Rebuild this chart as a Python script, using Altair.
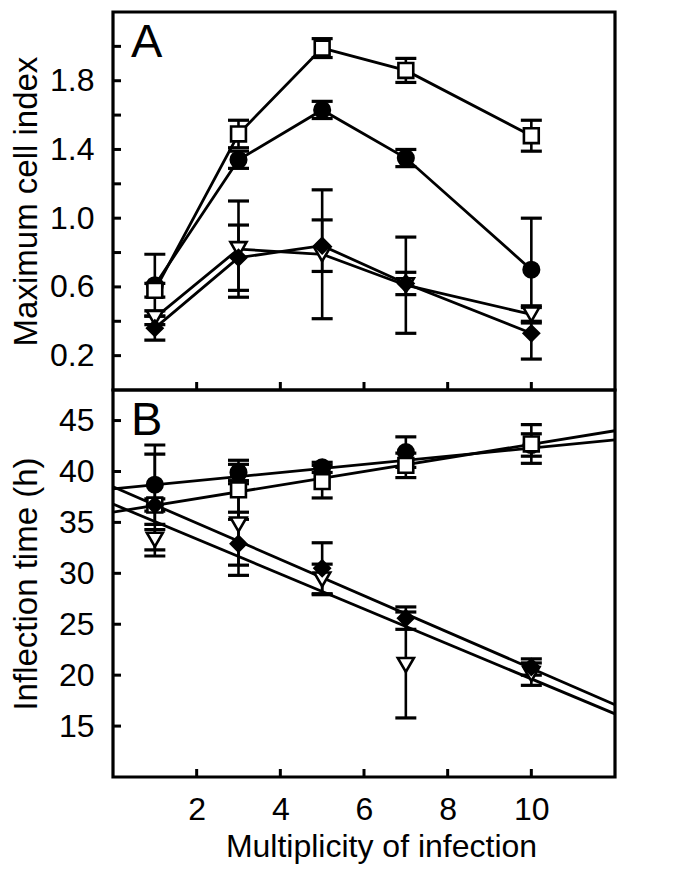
import altair as alt
import pandas as pd

# ---------------- data ----------------
moi = [1, 3, 5, 7, 10]
series = ["circle", "square", "triangle", "diamond"]

# Panel A: maximum cell index
a_circle = [0.61, 1.34, 1.63, 1.35, 0.70]
a_circle_err = [0.18, 0.05, 0.05, 0.05, 0.30]
a_square = [0.58, 1.49, 1.99, 1.86, 1.48]
a_square_err = [0.04, 0.08, 0.055, 0.07, 0.09]
a_triangle = [0.42, 0.82, 0.79, 0.61, 0.44]
a_triangle_err = [0.04, 0.28, 0.375, 0.28, 0.05]
a_diamond = [0.36, 0.77, 0.84, 0.62, 0.33]
a_diamond_err = [0.07, 0.19, 0.15, 0.065, 0.15]

# Panel B: inflection time (h)
b_circle = [38.7, 39.9, 40.4, 41.9, 42.6]
b_circle_err = [3.9, 0.8, 0.5, 1.5, 1.1]
b_square = [36.7, 38.2, 39.0, 40.6, 42.7]
b_square_err = [5.0, 2.9, 1.6, 1.2, 1.9]
b_triangle = [33.3, 34.8, 29.4, 21.0, 20.1]
b_triangle_err = [1.0, 4.0, 1.5, 5.2, 1.1]
b_diamond = [36.7, 32.9, 30.5, 25.6, 20.8]
b_diamond_err = [0.6, 3.1, 2.5, 1.1, 0.8]

# Panel B fitted lines (value at x=0 and x=12)
fit_x = [0, 12]
fit_circle = [38.3, 43.1]
fit_square = [36.0, 44.0]
fit_triangle = [36.8, 16.2]
fit_diamond = [38.5, 17.1]

# axes
x_ticks = [2, 4, 6, 8, 10]
a_ticks = [0.2, 0.4, 0.6, 0.8, 1.0, 1.2, 1.4, 1.6, 1.8, 2.0]
a_labels = [0.2, 0.6, 1.0, 1.4, 1.8]
b_ticks = [15, 20, 25, 30, 35, 40, 45]
b_labels = [15, 20, 25, 30, 35, 40, 45]

FONT = "Liberation Sans"
W = 502
HA = 378
HB = 387

shape_of = {"circle": "circle", "square": "square", "triangle": "triangle-down", "diamond": "diamond"}
fill_of = {"circle": "black", "square": "white", "triangle": "white", "diamond": "black"}
size_of = {"circle": 240, "square": 220, "triangle": 260, "diamond": 230}


def long_df(vals, errs):
    rows = []
    for s in series:
        for xv, yv, ev in zip(moi, vals[s], errs[s]):
            rows.append({"series": s, "x": xv, "y": yv, "lo": yv - ev, "hi": yv + ev})
    return pd.DataFrame(rows)


xs = alt.Scale(domain=[0, 12], nice=False, zero=False)


def build_panel(df, ydomain, yticks, ylabels, yfmt, ytitle, H, show_x, label, title_pad, fits=None):
    ys = alt.Scale(domain=ydomain, nice=False, zero=False)
    yaxis = alt.Axis(values=ylabels, format=yfmt, ticks=False, domain=False, grid=False,
                     labelFont=FONT, labelFontSize=32, labelColor="black", labelPadding=19,
                     title=ytitle, titleFont=FONT, titleFontSize=33, titleFontWeight="normal",
                     titleColor="black", titlePadding=title_pad)
    if show_x:
        xaxis = alt.Axis(values=x_ticks, format="d", ticks=False, domain=False, grid=False,
                         labelFont=FONT, labelFontSize=32, labelColor="black", labelPadding=17,
                         title="Multiplicity of infection", titleFont=FONT, titleFontSize=32,
                         titleFontWeight="normal", titleColor="black", titlePadding=6, titleX=268)
    else:
        xaxis = None

    def X(f):
        return alt.X(f, type="quantitative", scale=xs, axis=xaxis)

    def Y(f):
        return alt.Y(f, type="quantitative", scale=ys, axis=yaxis)

    base = alt.Chart(df)
    layers = []
    if fits is None:
        layers.append(base.mark_line(color="black", strokeWidth=2.8).encode(
            x=X("x"), y=Y("y"), detail="series:N", order="x:Q"))
    else:
        layers.append(alt.Chart(fits).mark_line(color="black", strokeWidth=2.8, clip=True).encode(
            x=X("x"), y=Y("y"), detail="series:N"))
    layers.append(base.mark_rule(color="black", strokeWidth=2.6).encode(
        x=X("x"), y=Y("lo"), y2="hi:Q"))
    layers.append(base.mark_tick(orient="horizontal", size=21, thickness=3.2, color="black", opacity=1).encode(
        x=X("x"), y=Y("lo")))
    layers.append(base.mark_tick(orient="horizontal", size=21, thickness=3.2, color="black", opacity=1).encode(
        x=X("x"), y=Y("hi")))
    for s in ["circle", "square", "triangle", "diamond"]:
        layers.append(alt.Chart(df[df["series"] == s]).mark_point(
            shape=shape_of[s], filled=True, fill=fill_of[s], stroke="black", strokeWidth=2.6,
            size=size_of[s], opacity=1).encode(x=X("x"), y=Y("y")))
    # inward ticks
    layers.append(alt.Chart(pd.DataFrame({"t": x_ticks})).mark_rule(color="black", strokeWidth=3).encode(
        x=X("t"), y=alt.value(H), y2=alt.value(H - 8)))
    layers.append(alt.Chart(pd.DataFrame({"t": yticks})).mark_rule(color="black", strokeWidth=3).encode(
        y=Y("t"), x=alt.value(0), x2=alt.value(8)))
    layers.append(alt.Chart(pd.DataFrame({"lab": [label]})).mark_text(
        font=FONT, fontSize=47, align="left", baseline="alphabetic", color="black").encode(
        text="lab:N", x=alt.value(18), y=alt.value(45)))
    return alt.layer(*layers).properties(width=W, height=H)


dfA = long_df({"circle": a_circle, "square": a_square, "triangle": a_triangle, "diamond": a_diamond},
              {"circle": a_circle_err, "square": a_square_err, "triangle": a_triangle_err,
               "diamond": a_diamond_err})
dfB = long_df({"circle": b_circle, "square": b_square, "triangle": b_triangle, "diamond": b_diamond},
              {"circle": b_circle_err, "square": b_square_err, "triangle": b_triangle_err,
               "diamond": b_diamond_err})
fitsB = pd.DataFrame([
    {"series": s, "x": xv, "y": yv}
    for s, vals in [("circle", fit_circle), ("square", fit_square),
                    ("triangle", fit_triangle), ("diamond", fit_diamond)]
    for xv, yv in zip(fit_x, vals)
])

panelA = build_panel(dfA, [0, 2.2], a_ticks, a_labels, ".1f", "Maximum cell index", HA, False, "A", 6.5)
panelB = build_panel(dfB, [10, 48], b_ticks, b_labels, "d", "Inflection time (h)", HB, True, "B", 15.4, fitsB)

chart = alt.vconcat(panelA, panelB, spacing=0, bounds="flush").properties(
    padding={"left": 0, "top": 2, "right": 5, "bottom": 2},
    background="white"
).configure_view(stroke="black", strokeWidth=3.2)

chart.save("out.html", embed_options={"renderer": "svg", "actions": False})
